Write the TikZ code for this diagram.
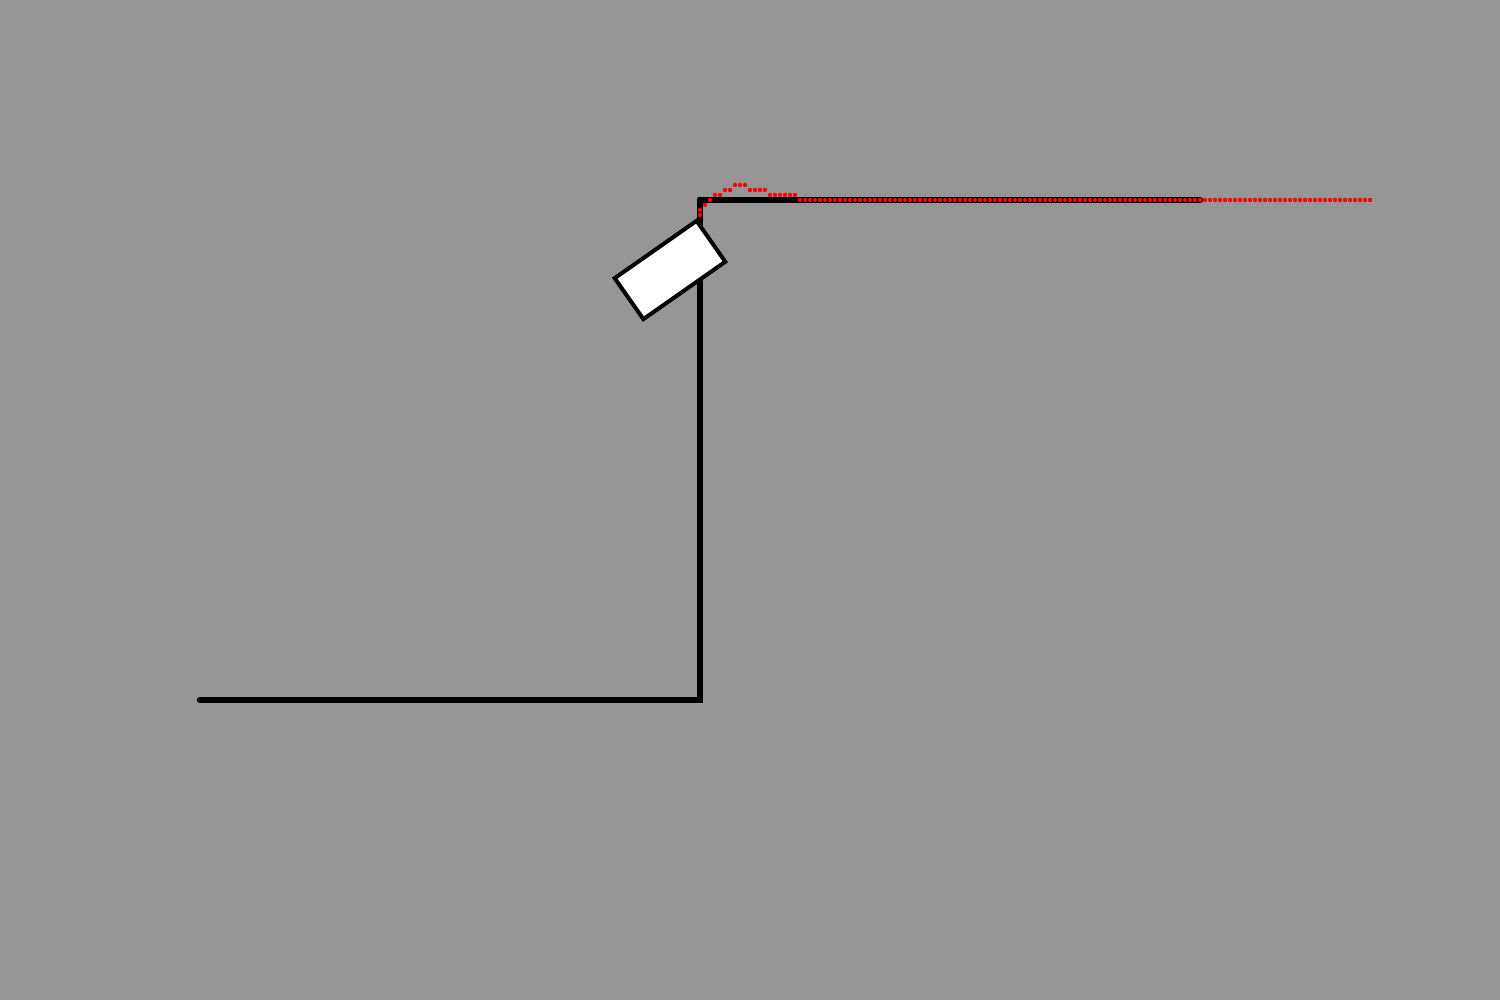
\documentclass[tikz,border=0pt]{standalone}
\usepackage{tikz}
\usetikzlibrary{positioning}
\definecolor{bggray}{RGB}{150,150,150}

\begin{document}
\begin{tikzpicture}[
  track/.style={line width=0.065cm, line cap=round, line join=miter},
  block/.style={draw, fill=white, line width=0.04cm, minimum width=1cm, minimum height=0.5cm, inner sep=0pt, rotate=35},
  trail/.style={fill=red},
  ]
  % background
  \fill[bggray] (0,0) rectangle (15,10);
  \useasboundingbox (0,0) rectangle (15,10);

  % ground, wall and ledge
  \coordinate (start) at (2,3);
  \coordinate (foot)  at (7,3);
  \coordinate (edge)  at (7,8);
  \coordinate (stop)  at (12,8);
  \draw[track] (start) -- (foot) -- (edge);
  \draw[track] (edge) -- (stop);

  % sliding block
  \node[block] (box) at (6.7,7.3) {};

  % path of the block
  \foreach \x/\y in {7.0/7.85, 7.0/7.9, 7.05/7.95, 7.1/8.0, 7.15/8.05, 7.2/8.05,
                     7.25/8.1, 7.3/8.1, 7.35/8.15, 7.4/8.15, 7.45/8.15,
                     7.5/8.1, 7.55/8.1, 7.6/8.1, 7.65/8.1}
    \fill[trail] (\x,\y) circle (0.022);
  \foreach \x in {7.7,7.75,...,7.96}
    \fill[trail] (\x,8.05) circle (0.022);
  \foreach \x in {8.0,8.05,...,13.71}
    \fill[trail] (\x,8.0) circle (0.022);
\end{tikzpicture}
\end{document}
